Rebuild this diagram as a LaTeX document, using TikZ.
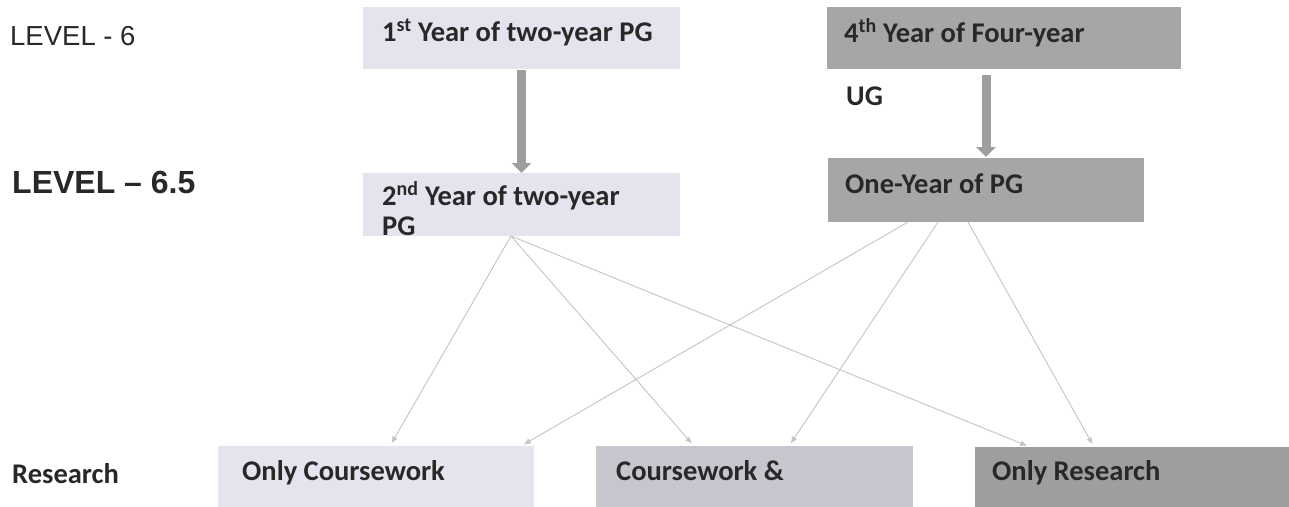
\documentclass[tikz,border=0pt]{standalone}
\usepackage{fontspec}
\setmainfont{Carlito}
\newfontfamily\arialfont[Ligatures=TeX]{Liberation Sans}
\usetikzlibrary{arrows.meta}
\definecolor{palebox}{RGB}{228,228,238}
\definecolor{midbox}{RGB}{198,198,206}
\definecolor{darkbox}{RGB}{166,166,166}
\definecolor{deepbox}{RGB}{158,158,158}
\definecolor{blockgray}{RGB}{158,158,158}
\definecolor{linkgray}{RGB}{196,196,202}
\definecolor{inkgray}{RGB}{40,40,40}

\begin{document}
\begin{tikzpicture}[
            x=1pt, y=-1pt,
            box/.style={anchor=north west, inner sep=0pt, outer sep=0pt},
            pale box/.style={box, fill=palebox},
            mid box/.style={box, fill=midbox},
            dark box/.style={box, fill=darkbox},
            deep box/.style={box, fill=deepbox},
            box text/.style={anchor=base west, inner sep=0pt, text=inkgray,
                font=\fontsize{28.5}{32}\selectfont\bfseries},
            level/.style={anchor=base west, inner sep=0pt, text=inkgray,
                font=\arialfont\fontsize{27.5}{31}\selectfont},
            big level/.style={level, font=\arialfont\fontsize{32}{36}\selectfont\bfseries},
            block arrow/.style={draw=blockgray, line width=9pt,
                -{Triangle[width=19pt,length=10pt]}},
            link/.style={draw=linkgray, line width=0.9pt,
                -{Latex[length=7pt,width=6pt]}, shorten >=3pt},
        ]
        \useasboundingbox (0,0) rectangle (1289,506);
        \fill[white] (0,0) rectangle (1289,506);
        \clip (0,0) rectangle (1289,506);
        % LEVEL LABELS
        \node[level] (lvsix) at (10,45) {LEVEL - 6};
        \node[big level] (lvsixhalf) at (12,193) {LEVEL \textendash{} 6.5};
        \node[box text] (research) at (12,483) {Research};
        % TOP ROW
        \node[pale box, minimum width=317pt, minimum height=62pt] (first) at (363,7) {};
        \node[box text] at (382,41) {1\textsuperscript{st} Year of two-year PG};
        \node[dark box, minimum width=354pt, minimum height=62pt] (fourth) at (827,7) {};
        \node[box text] at (844,42) {4\textsuperscript{th} Year of Four-year};
        \node[box text] (ug) at (846,105) {UG};
        % MIDDLE ROW
        \node[pale box, minimum width=317pt, minimum height=63pt] (second) at (363,173) {};
        \node[box text] at (382,205) {2\textsuperscript{nd} Year of two-year};
        \node[box text] at (382,235) {PG};
        \node[dark box, minimum width=316pt, minimum height=64pt] (oneyear) at (828,158) {};
        \node[box text] at (845,193) {One-Year of PG};
        % BOTTOM ROW
        \node[pale box, minimum width=316pt, minimum height=70pt] (course) at (218,446) {};
        \node[box text] at (242,480) {Only Coursework};
        \node[mid box, minimum width=317pt, minimum height=70pt] (mixed) at (596,446) {};
        \node[box text] at (616,480) {Coursework \&};
        \node[deep box, minimum width=380pt, minimum height=70pt] (resonly) at (975,447) {};
        \node[box text] at (992,480) {Only Research};
        % BLOCK ARROWS
        \draw[block arrow, shorten <=1pt] (first.south) -- (second.north);
        \draw[block arrow, shorten <=6pt, shorten >=1pt] (fourth.south -| oneyear.north) -- (oneyear.north);
        % LINKS
        \draw[link] ([xshift=148pt]second.south west) -- ([xshift=172pt]course.north west);
        \draw[link] ([xshift=148pt]second.south west) -- ([xshift=98pt]mixed.north west);
        \draw[link] ([xshift=148pt]second.south west) -- ([xshift=55pt]resonly.north west);
        \draw[link] ([xshift=80pt]oneyear.south west) -- ([xshift=303pt]course.north west);
        \draw[link] ([xshift=110pt]oneyear.south west) -- ([xshift=193pt]mixed.north west);
        \draw[link] ([xshift=140pt]oneyear.south west) -- ([xshift=119pt]resonly.north west);
        \end{tikzpicture}
\end{document}
